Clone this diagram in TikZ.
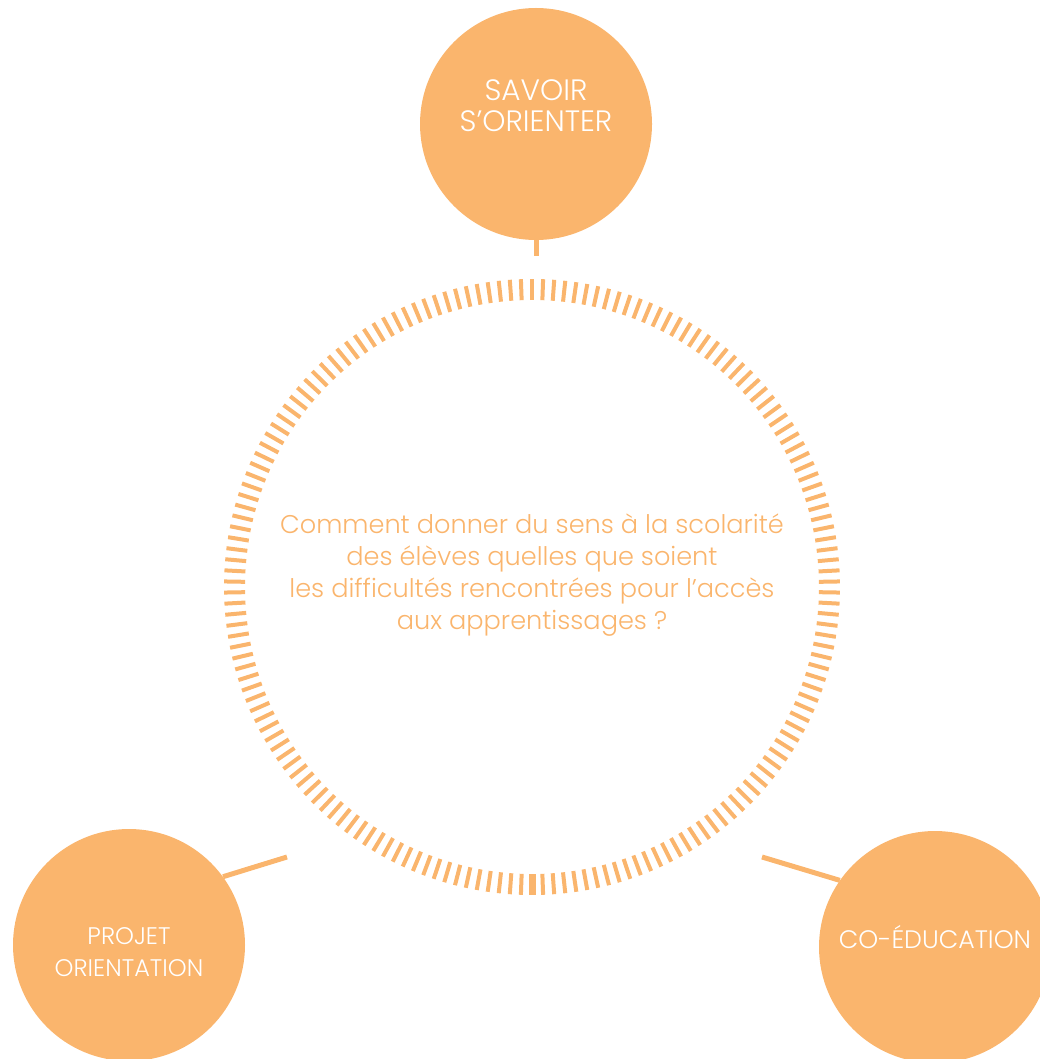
\documentclass[tikz,border=0pt]{standalone}
\usepackage{fontspec}
\setmainfont{Poppins}[UprightFont=* Light]
\usepackage{xcolor}
\definecolor{peche}{HTML}{FAB56D}

\begin{document}
\begin{tikzpicture} [
       x=1pt, y=-1pt,
       bulle/.style={circle, fill=peche, draw=none, minimum size=232pt, inner sep=0pt},
       etiquette/.style={text=white, align=center, inner sep=0pt},
       question/.style={text=peche, align=center, inner sep=0pt},
       lien/.style={draw=peche, line width=5pt},
       trait/.style={draw=peche, line width=4pt},
       ]
       \useasboundingbox (0,0) rectangle (1039,1059);
       % anneau de traits
       \coordinate (centre) at (532,587);
       \foreach \a in {1,...,173}
          \draw[trait] (centre) ++(90+\a*2.06897:287) -- ++(90+\a*2.06897:21);
       \draw[trait, line width=7pt] (centre) ++(90:287) -- ++(90:21);
       \node (quest) [question, font=\fontsize{25.6}{32}\selectfont] at ([yshift=12pt]centre)
          {Comment donner du sens à la scolarité\\des élèves quelles que soient\\les difficultés rencontrées pour l’accès\\aux apprentissages ?};
       % bulles
       \node (savoir) [bulle] at (536,124) {};
       \node (projet) [bulle] at (129,945) {};
       \node (coedu) [bulle] at (935,947) {};
       \node (savoirtxt) [etiquette, font=\fontsize{29.5}{31}\selectfont] at ([yshift=18pt]savoir.center) {SAVOIR\\S’ORIENTER};
       \node (projettxt) [etiquette, font=\fontsize{24}{32}\selectfont] at ([yshift=-7pt]projet.center) {PROJET\\ORIENTATION};
       \node (coedutxt) [etiquette, font=\fontsize{25.3}{30}\selectfont] at ([yshift=10pt]coedu.center) {CO-ÉDUCATION};
       % liens
       \coordinate (haut) at (536,256);
       \coordinate (gauche) at (287,857);
       \coordinate (droite) at (762,857);
       \path[lien] (savoir.south) -- (haut);
       \path[lien] (projet.36) -- (gauche);
       \path[lien] (coedu.145) -- (droite);
\end{tikzpicture}
\end{document}
